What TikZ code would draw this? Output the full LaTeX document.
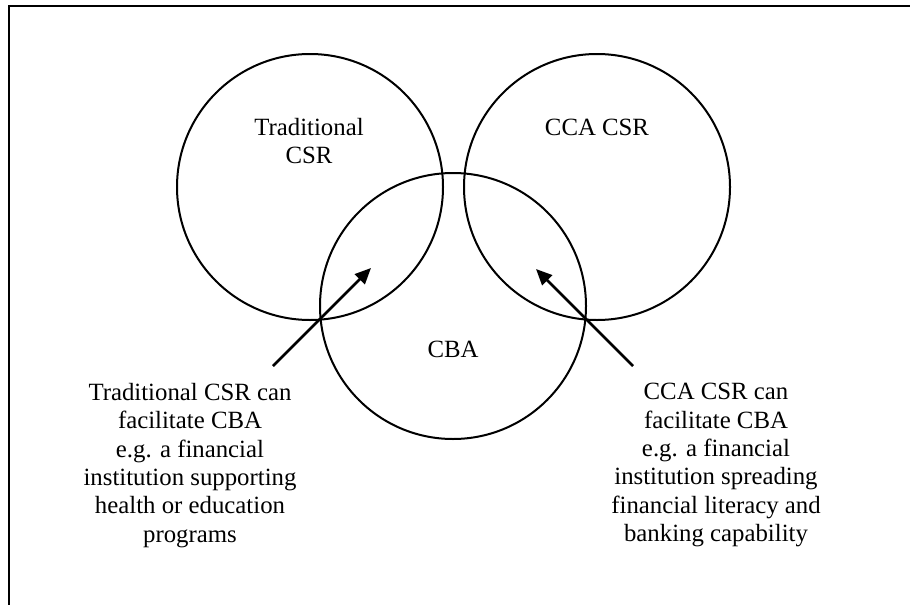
\documentclass[tikz,border=0pt]{standalone}
\usepackage{fontspec}
\setmainfont{Liberation Serif}
\usetikzlibrary{arrows.meta}
\begin{document}
\begin{tikzpicture}[x=0.5pt,y=-0.5pt,
  setcircle/.style={circle,draw,line width=1pt,minimum size=133pt,inner sep=0pt},
  lbl/.style={font=\fontsize{12.4}{14.15}\selectfont,align=center,inner sep=0pt},
  note/.style={lbl,anchor=north},
  pointer/.style={line width=1.25pt,-{Triangle[length=8pt,width=7pt]}}]
\useasboundingbox (0,0) rectangle (910,605);
% frame (top and left edges)
\draw[line width=1pt] (910,6) -- (9,6) -- (9,605);

% the three sets
\node[setcircle] (trad) at (310,187) {};
\node[setcircle] (cca)  at (597,187) {};
\node[setcircle] (cba)  at (453,306) {};

\node[lbl,anchor=north] (tradlbl) at (309,118) {Traditional\\CSR};
\node[lbl,anchor=base]  (ccalbl)  at (597,135) {CCA CSR};
\node[lbl,anchor=base]  (cbalbl)  at (453,357) {CBA};

% explanatory notes
\node[note] (leftnote) at (190,383)
  {Traditional CSR can\\facilitate CBA\\e.g. a financial\\institution supporting\\health or education\\programs};
\node[note] (rightnote) at (716,383)
  {CCA CSR can\\facilitate CBA\\e.g. a financial\\institution spreading\\financial literacy and\\banking capability};

% pointers into the overlaps
\coordinate (ltail) at (273,366);
\coordinate (lhead) at (371,268);
\coordinate (rtail) at (633,366);
\coordinate (rhead) at (536,269);
\draw[pointer] (ltail) -- (lhead);
\draw[pointer] (rtail) -- (rhead);
\end{tikzpicture}
\end{document}
